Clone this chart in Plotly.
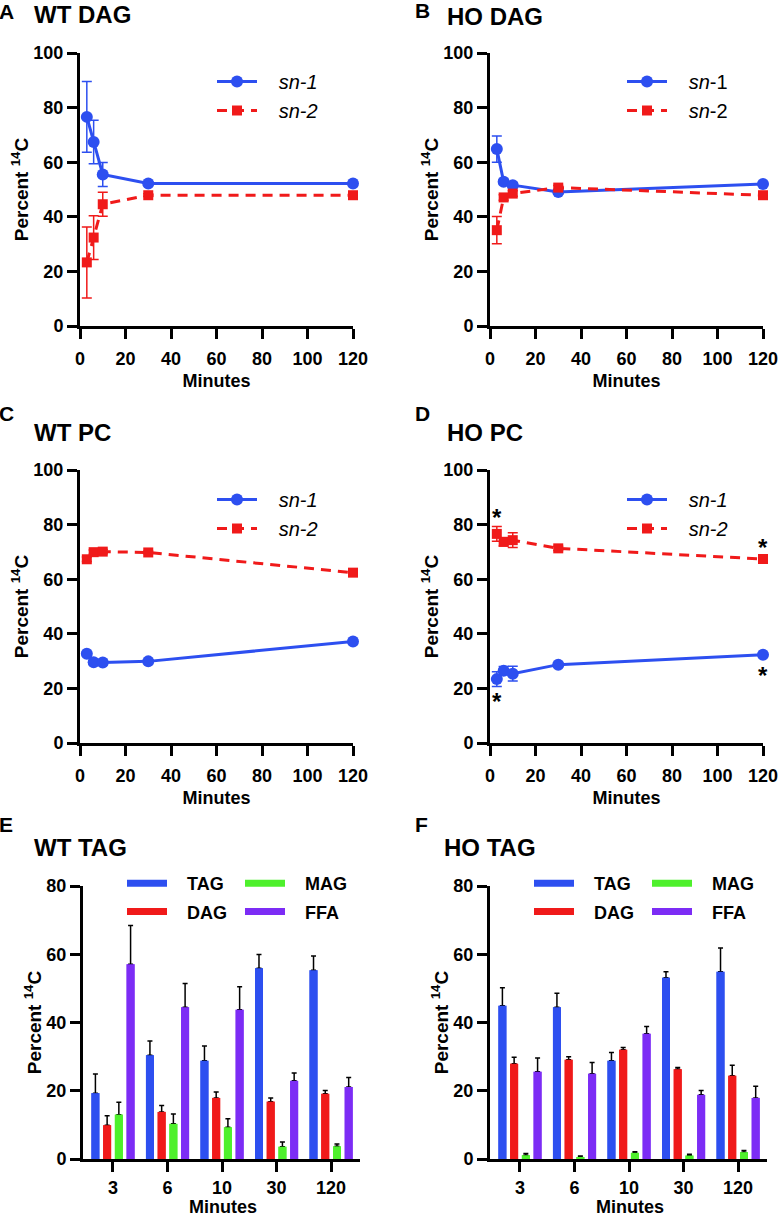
import plotly.graph_objects as go

W, H = 780, 1213
FONT = "Arial, Liberation Sans, sans-serif"

# ---------------- data ----------------
minutes = [3, 6, 10, 30, 120]
minute_ticks = [0, 20, 40, 60, 80, 100, 120]

# A  WT DAG
wt_dag_sn1 = [76.6, 67.4, 55.5, 52.2, 52.2]
wt_dag_sn1_err = [13.0, 8.0, 4.4, 0.5, 0.5]
wt_dag_sn2 = [23.3, 32.4, 44.6, 47.9, 47.9]
wt_dag_sn2_err = [13.0, 8.0, 4.4, 0.5, 0.5]
# B  HO DAG
ho_dag_sn1 = [64.8, 52.8, 51.6, 49.1, 52.0]
ho_dag_sn1_err = [4.8, 1.0, 1.0, 0.8, 0.5]
ho_dag_sn2 = [35.1, 47.1, 48.5, 50.7, 47.9]
ho_dag_sn2_err = [5.0, 1.0, 1.0, 0.8, 0.5]
# C  WT PC
wt_pc_sn1 = [32.7, 29.6, 29.5, 29.9, 37.2]
wt_pc_sn1_err = [0.8, 0.8, 0.8, 0.5, 0.5]
wt_pc_sn2 = [67.3, 69.9, 70.1, 69.8, 62.4]
wt_pc_sn2_err = [0.8, 0.8, 0.8, 0.5, 0.5]
# D  HO PC
ho_pc_sn1 = [23.4, 26.5, 25.4, 28.7, 32.3]
ho_pc_sn1_err = [2.7, 1.5, 2.7, 0.8, 0.5]
ho_pc_sn2 = [76.6, 73.7, 74.3, 71.3, 67.4]
ho_pc_sn2_err = [2.7, 1.5, 2.7, 0.8, 0.5]

# E / F  TAG hydrolysis products
bar_minutes = ["3", "6", "10", "30", "120"]
lipid_names = ["TAG", "DAG", "MAG", "FFA"]

wt_tag_tag = [19.3, 30.4, 28.8, 55.9, 55.3]
wt_tag_tag_err = [5.6, 4.2, 4.3, 4.0, 4.2]
wt_tag_dag = [9.9, 13.8, 17.9, 16.8, 19.1]
wt_tag_dag_err = [2.8, 1.9, 1.7, 1.1, 1.0]
wt_tag_mag = [13.0, 10.3, 9.3, 3.6, 3.7]
wt_tag_mag_err = [3.6, 2.9, 2.5, 1.4, 0.7]
wt_tag_ffa = [57.1, 44.5, 43.7, 22.9, 21.1]
wt_tag_ffa_err = [11.3, 6.9, 6.8, 2.3, 2.8]

ho_tag_tag = [44.9, 44.5, 28.8, 53.1, 54.9]
ho_tag_tag_err = [5.3, 4.1, 2.4, 1.8, 6.9]
ho_tag_dag = [27.9, 29.1, 32.0, 26.3, 24.4]
ho_tag_dag_err = [1.9, 0.9, 0.7, 0.5, 3.1]
ho_tag_mag = [1.1, 0.6, 1.8, 1.0, 2.0]
ho_tag_mag_err = [0.5, 0.3, 0.3, 0.4, 0.5]
ho_tag_ffa = [25.6, 25.0, 36.7, 18.8, 17.9]
ho_tag_ffa_err = [4.0, 3.3, 2.1, 1.3, 3.4]

# ---------------- styles ----------------
BLUE = "#2D4FF0"
RED = "#F01A1A"
GREEN = "#4EF02C"
PURPLE = "#7C2CF5"
bar_colors = [BLUE, RED, GREEN, PURPLE]

TICKFONT = dict(family=FONT, size=18, color="black", weight="bold")
YTITLEFONT = dict(family=FONT, size=19, color="black", weight="bold")
XTITLEFONT = dict(family=FONT, size=18, color="black", weight="bold")


def px_x(p):
    return p / W


def px_y(p):
    return 1 - p / H


fig = go.Figure()

# panel geometry in pixels: (x0, x1, ytop, ybottom)
geo = {
    1: (80, 353, 53, 326),
    2: (490, 763, 53, 326),
    3: (80, 353, 470, 743),
    4: (490, 763, 470, 743),
    5: (83, 360, 886, 1159),
    6: (490, 767, 886, 1159),
}


def axis_common():
    return dict(
        showline=True, linewidth=3, linecolor="black",
        ticks="outside", ticklen=10, tickwidth=3, tickcolor="black",
        showgrid=False, zeroline=False, tickfont=TICKFONT, automargin=False,
    )


layout_axes = {}
for i, (x0, x1, yt, yb) in geo.items():
    sfx = "" if i == 1 else str(i)
    xa = axis_common()
    ya = axis_common()
    xa.update(domain=[px_x(x0), px_x(x1)], anchor="y" + sfx)
    ya.update(domain=[px_y(yb), px_y(yt)], anchor="x" + sfx)
    if i <= 4:
        xa.update(range=[0, 120], tickvals=minute_ticks, ticklabelstandoff=4)
        ya.update(range=[0, 100], tickvals=[0, 20, 40, 60, 80, 100])
        xa.update(title=dict(text="Minutes", font=XTITLEFONT, standoff=7))
    else:
        # the bottom row's x title sits at the page edge; drawn as an annotation below
        xa.update(type="category", range=[-0.55, 4.53])
        ya.update(range=[0, 80], tickvals=[0, 20, 40, 60, 80])
    ya.update(title=dict(text="Percent <sup>14</sup>C", font=YTITLEFONT, standoff=0))
    layout_axes["xaxis" + sfx] = xa
    layout_axes["yaxis" + sfx] = ya


def add_line_panel(i, sn1, sn1e, sn2, sn2e, legend_name, lab1, lab2):
    sfx = "" if i == 1 else str(i)
    fig.add_trace(go.Scatter(
        x=minutes, y=sn1, name=lab1, mode="lines+markers",
        line=dict(color=BLUE, width=3),
        marker=dict(symbol="circle", size=12, color=BLUE),
        error_y=dict(type="data", array=sn1e, visible=True, color=BLUE,
                     thickness=1.5, width=5),
        xaxis="x" + sfx, yaxis="y" + sfx, legend=legend_name, cliponaxis=False,
    ))
    fig.add_trace(go.Scatter(
        x=minutes, y=sn2, name=lab2, mode="lines+markers",
        line=dict(color=RED, width=3, dash="10px,7px"),
        marker=dict(symbol="square", size=10, color=RED),
        error_y=dict(type="data", array=sn2e, visible=True, color=RED,
                     thickness=1.5, width=5),
        xaxis="x" + sfx, yaxis="y" + sfx, legend=legend_name, cliponaxis=False,
    ))


NB = "\u00a0\u00a0\u00a0"
add_line_panel(1, wt_dag_sn1, wt_dag_sn1_err, wt_dag_sn2, wt_dag_sn2_err,
               "legend", NB + "<i>sn-1</i>", NB + "<i>sn-2</i>")
add_line_panel(2, ho_dag_sn1, ho_dag_sn1_err, ho_dag_sn2, ho_dag_sn2_err,
               "legend2", NB + "<i>sn</i>-1", NB + "<i>sn</i>-2")
add_line_panel(3, wt_pc_sn1, wt_pc_sn1_err, wt_pc_sn2, wt_pc_sn2_err,
               "legend3", NB + "<i>sn-1</i>", NB + "<i>sn-2</i>")
add_line_panel(4, ho_pc_sn1, ho_pc_sn1_err, ho_pc_sn2, ho_pc_sn2_err,
               "legend4", NB + "<i>sn-1</i>", NB + "<i>sn-2</i>")


def add_bar_panel(i, series, errors, leg_a, leg_b):
    sfx = str(i)
    # bars carrying one-sided error bars
    for k, (vals, errs) in enumerate(zip(series, errors)):
        fig.add_trace(go.Bar(
            x=bar_minutes, y=vals, marker=dict(color=bar_colors[k], line=dict(width=0)),
            offsetgroup=str(k), showlegend=False,
            error_y=dict(type="data", symmetric=False, array=errs,
                         arrayminus=[0] * len(errs), color="black",
                         thickness=1.5, width=2.5),
            xaxis="x" + sfx, yaxis="y" + sfx,
        ))
    # same bars drawn again on top so the bar top stays clean
    for k, vals in enumerate(series):
        fig.add_trace(go.Bar(
            x=bar_minutes, y=vals, marker=dict(color=bar_colors[k], line=dict(width=0)),
            offsetgroup=str(k), showlegend=False, hoverinfo="skip",
            xaxis="x" + sfx, yaxis="y" + sfx,
        ))
    # legend entries (wide colour swatches)
    for k, name in enumerate(lipid_names):
        fig.add_trace(go.Scatter(
            x=[None], y=[None], mode="lines", name="\u00a0\u00a0\u00a0" + name,
            line=dict(color=bar_colors[k], width=7),
            legend=leg_a if k in (0, 1) else leg_b, legendgroup=f"{i}{name}",
            xaxis="x" + sfx, yaxis="y" + sfx,
        ))


add_bar_panel(5, [wt_tag_tag, wt_tag_dag, wt_tag_mag, wt_tag_ffa],
              [wt_tag_tag_err, wt_tag_dag_err, wt_tag_mag_err, wt_tag_ffa_err],
              "legend5", "legend6")
add_bar_panel(6, [ho_tag_tag, ho_tag_dag, ho_tag_mag, ho_tag_ffa],
              [ho_tag_tag_err, ho_tag_dag_err, ho_tag_mag_err, ho_tag_ffa_err],
              "legend7", "legend8")

# ---------------- legends ----------------
line_leg_font = dict(family=FONT, size=20, color="black", style="normal")
bar_leg_font = dict(family=FONT, size=18, color="black", weight="bold")


def line_legend(xp, ytop):
    return dict(x=px_x(xp), y=px_y(ytop), xanchor="left", yanchor="top",
                bgcolor="rgba(0,0,0,0)", borderwidth=0, itemwidth=40,
                font=line_leg_font, tracegroupgap=0)


def bar_legend(xp, ytop):
    return dict(x=px_x(xp), y=px_y(ytop), xanchor="left", yanchor="top",
                bgcolor="rgba(0,0,0,0)", borderwidth=0, itemwidth=40,
                font=bar_leg_font, tracegroupgap=2)


legends = dict(
    legend=line_legend(212, 62),
    legend2=line_legend(622, 62),
    legend3=line_legend(212, 480),
    legend4=line_legend(622, 480),
    legend5=bar_legend(122, 865),
    legend6=bar_legend(240, 865),
    legend7=bar_legend(529, 865),
    legend8=bar_legend(647, 865),
)

# ---------------- panel labels and titles ----------------
annots = []


def label(text, xp, yp, size, xanchor="left"):
    annots.append(dict(text=text, x=px_x(xp), y=px_y(yp), xref="paper", yref="paper",
                       xanchor=xanchor, yanchor="middle", showarrow=False,
                       font=dict(family=FONT, size=size, color="black", weight="bold")))


for letter, lx, ly, title, tx, ty in [
    ("A", -3, 11, "WT DAG", 32, 15),
    ("B", 413, 10, "HO DAG", 445, 16),
    ("C", -3, 413, "WT PC", 32, 433),
    ("D", 413, 413, "HO PC", 445, 433),
    ("E", -3, 824, "WT TAG", 32, 847),
    ("F", 413, 824, "HO TAG", 442, 847),
]:
    label(letter, lx, ly, 21)
    label(title, tx, ty, 24)

# x titles of the bar panels (partly cut by the page bottom, as in the original)
for i in (5, 6):
    x0, x1, _, _ = geo[i]
    label("Minutes", (x0 + x1) / 2 + 1, 1207, 18, xanchor="center")

# significance asterisks in panel D
for xv, yv, shift in [(3, ho_pc_sn2[0], 16), (3, ho_pc_sn1[0], -22),
                      (120, ho_pc_sn2[-1], 11), (120, ho_pc_sn1[-1], -21)]:
    annots.append(dict(text="*", x=xv, y=yv, xref="x4", yref="y4", showarrow=False,
                       yshift=shift, font=dict(family=FONT, size=24, color="black",
                                               weight="bold")))

fig.update_layout(
    width=W, height=H, margin=dict(l=0, r=0, t=0, b=0, autoexpand=False),
    paper_bgcolor="white", plot_bgcolor="white",
    barmode="group", bargap=0.14, bargroupgap=0.32,
    annotations=annots, showlegend=True,
    **layout_axes, **legends,
)

fig.write_html(
    "out.html",
    config={"displayModeBar": False},
    post_script="document.body.style.margin='0';"
                "document.documentElement.style.overflow='hidden';",
)
